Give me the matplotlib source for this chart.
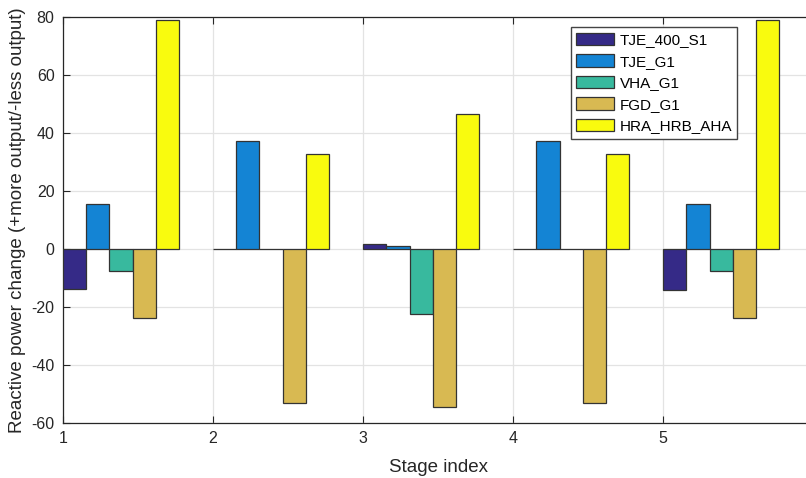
import numpy as np
import matplotlib.pyplot as plt

plt.rcParams['font.family'] = ['Liberation Sans', 'DejaVu Sans']
plt.rcParams['axes.unicode_minus'] = False

stages = [1, 2, 3, 4, 5]
series = ['TJE_400_S1', 'TJE_G1', 'VHA_G1', 'FGD_G1', 'HRA_HRB_AHA']
values = {
    'TJE_400_S1': [-13.8, 0.0, 1.7, 0.0, -14.0],
    'TJE_G1': [15.6, 37.2, 0.9, 37.2, 15.5],
    'VHA_G1': [-7.5, 0.0, -22.4, 0.0, -7.5],
    'FGD_G1': [-23.9, -53.0, -54.3, -53.0, -23.9],
    'HRA_HRB_AHA': [79.2, 32.9, 46.6, 32.9, 79.2],
}
colors = ['#352a87', '#1484d4', '#38b99e', '#d8b952', '#f9fb0e']

fig = plt.figure(figsize=(8.06, 4.78), dpi=100)
ax = fig.add_axes([0.078, 0.115, 0.931, 0.849])

w = 0.155
x = np.array(stages, dtype=float)
for k, (name, c) in enumerate(zip(series, colors)):
    ax.bar(x + k * w, values[name], width=w, align='edge', color=c,
           edgecolor='#333333', linewidth=0.9, label=name, zorder=3)

ax.set_xlim(1, 6)
ax.set_ylim(-60, 80)
ax.set_xticks(stages)
ax.set_yticks(np.arange(-60, 81, 20))
ax.grid(True, color='#e3e3e3', linewidth=0.9, zorder=0)
ax.tick_params(direction='in', top=True, right=True, labelsize=11.5,
               length=5, width=0.8, colors='#262626', pad=6)
for s in ax.spines.values():
    s.set_color('#262626')
    s.set_linewidth(0.9)

ax.set_xlabel('Stage index', fontsize=13.5, color='#262626', labelpad=9)
ax.set_ylabel('Reactive power change (+more output/-less output)', fontsize=13.5,
              color='#262626', labelpad=4)

ax.legend(loc='upper right', bbox_to_anchor=(0.899, 0.975), fontsize=11,
          fancybox=False, edgecolor='#444444', framealpha=1,
          handlelength=2.5, handleheight=0.9, borderpad=0.35, labelspacing=0.45,
          handletextpad=0.35, borderaxespad=0)

fig.savefig('out.png', dpi=100)
